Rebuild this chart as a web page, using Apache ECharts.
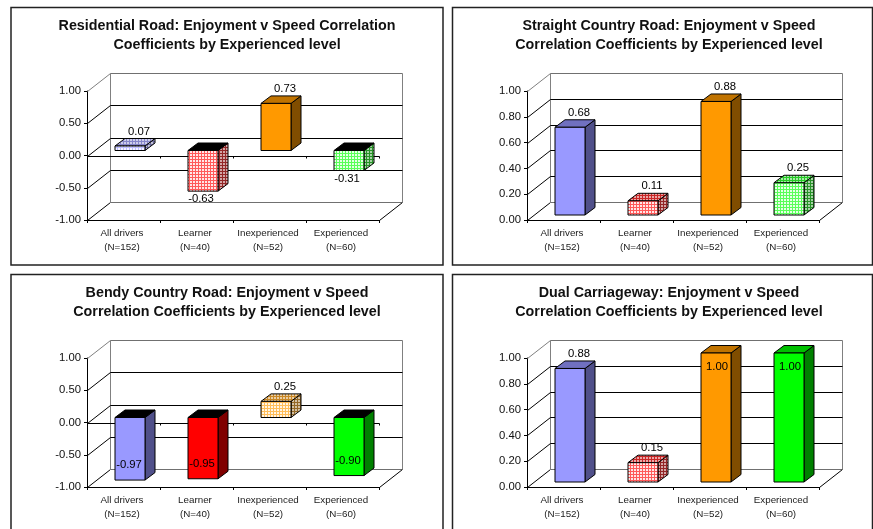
<!DOCTYPE html>
<html>
<head>
<meta charset="utf-8">
<style>html,body{margin:0;padding:0;background:#fff}#c{width:873px;height:529px}</style>
<script src="https://cdn.jsdelivr.net/npm/echarts@6/dist/echarts.min.js"></script>
</head>
<body>
<div id="c"></div>
<script>
// ---- data ----
const categories = ['All drivers\n(N=152)', 'Learner\n(N=40)', 'Inexperienced\n(N=52)', 'Experienced\n(N=60)'];
const titles = [
  'Residential Road: Enjoyment v Speed Correlation\nCoefficients by Experienced level',
  'Straight Country Road: Enjoyment v Speed\nCorrelation Coefficients by Experienced level',
  'Bendy Country Road: Enjoyment v Speed\nCorrelation Coefficients by Experienced level',
  'Dual Carriageway: Enjoyment v Speed\nCorrelation Coefficients by Experienced level'
];
const residentialValues = [0.07, -0.63, 0.73, -0.31];
const straightValues = [0.68, 0.11, 0.88, 0.25];
const bendyValues = [-0.97, -0.95, 0.25, -0.90];
const dualValues = [0.88, 0.15, 1.00, 1.00];
// solid bars in the source; the others carry a dotted fill
const residentialSolid = [false, false, true, false];
const straightSolid = [true, false, true, false];
const bendySolid = [true, true, false, true];
const dualSolid = [true, false, true, true];
const signedTicks = [-1, -0.5, 0, 0.5, 1];
const positiveTicks = [0, 0.2, 0.4, 0.6, 0.8, 1];

// ---- style and layout ----
const FONT = '"Liberation Sans", Arial, sans-serif';
const palette = [
  { front: '#9999ff', top: '#7070c0', side: '#50508a' },
  { front: '#ff0000', top: '#c00000', side: '#800000' },
  { front: '#ff9900', top: '#c07300', side: '#804d00' },
  { front: '#00ff00', top: '#00c000', side: '#008000' }
];
const WALL = { dx: 23, dy: 18 };
const BAR = { ox: 6.5, oy: 5, width: 30, dx: 10, dy: 7.5 };
const panels = [
  { left: 87, top: 91, frame: [11, 7.5, 432, 257.5], titleX: 227, titleY: 16.5, values: residentialValues, solid: residentialSolid, ticks: signedTicks },
  { left: 527, top: 91, frame: [452.5, 7.5, 420, 257.5], titleX: 669, titleY: 16.5, values: straightValues, solid: straightSolid, ticks: positiveTicks },
  { left: 87, top: 358, frame: [11, 274.5, 432, 270], titleX: 227, titleY: 283.5, values: bendyValues, solid: bendySolid, ticks: signedTicks },
  { left: 527, top: 358, frame: [452.5, 274.5, 420, 270], titleX: 669, titleY: 283.5, values: dualValues, solid: dualSolid, ticks: positiveTicks }
];

function mix(hex, amount) {
  const n = parseInt(hex.slice(1), 16);
  const ch = s => Math.round(((n >> s) & 255) * (1 - amount) + 255 * amount);
  return 'rgb(' + ch(16) + ',' + ch(8) + ',' + ch(0) + ')';
}
const tiles = {};
function dots(color) {
  if (tiles[color]) return tiles[color];
  const cv = document.createElement('canvas');
  cv.width = cv.height = 3;
  const g = cv.getContext('2d');
  g.fillStyle = mix(color, 0.35);
  g.fillRect(0, 0, 3, 3);
  g.fillStyle = mix(color, 0.9);
  g.fillRect(1, 1, 2, 2);
  return (tiles[color] = { image: cv, repeat: 'repeat' });
}
function darkDots(color) {
  const key = 'dark' + color;
  if (tiles[key]) return tiles[key];
  const cv = document.createElement('canvas');
  cv.width = cv.height = 3;
  const g = cv.getContext('2d');
  g.fillStyle = mix(color, 0.15);
  g.fillRect(0, 0, 3, 3);
  g.fillStyle = mix(color, 0.65);
  g.fillRect(1, 1, 2, 2);
  return (tiles[key] = { image: cv, repeat: 'repeat' });
}

function line(points, stroke, width) {
  return { type: 'polyline', shape: { points }, style: { stroke, lineWidth: width || 1, fill: 'none' }, silent: true };
}
const snap = v => Math.round(v) + 0.5;

function renderWall(p) {
  return function (params, api) {
    const rect = params.coordSys;
    const x0 = snap(rect.x), x1 = snap(rect.x + rect.width);
    const tick = api.value(1);
    const y = snap(api.coord([0, tick])[1]);
    const isBottom = tick === p.ticks[0], isTop = tick === p.ticks[p.ticks.length - 1];
    const back = y - WALL.dy;
    const kids = [];
    kids.push(line([[x0, y], [x0 + WALL.dx, back]], isTop ? '#808080' : '#000000'));
    kids.push(line([[x0 + WALL.dx, back], [x1 + WALL.dx, back]], isTop || isBottom ? '#707070' : '#000000'));
    if (isBottom) {
      kids.push(line([[x1, y], [x1 + WALL.dx, back]], '#000000'));
      const yTop = snap(api.coord([0, p.ticks[p.ticks.length - 1]])[1]) - WALL.dy;
      kids.push(line([[x0 + WALL.dx, back], [x0 + WALL.dx, yTop]], '#808080'));
      kids.push(line([[x1 + WALL.dx, back], [x1 + WALL.dx, yTop]], '#808080'));
    }
    if (tick === 0 && !isBottom) {
      kids.push(line([[x0, y], [x1, y]], '#000000'));
      for (let i = 1; i <= categories.length; i++) {
        const xt = snap(rect.x + rect.width * i / categories.length);
        kids.push(line([[xt, y], [xt, y + 2]], '#000000'));
      }
    }
    return { type: 'group', children: kids };
  };
}

function renderBar(p) {
  return function (params, api) {
    const i = api.value(0), v = api.value(1);
    const c = api.coord([i, v]), z = api.coord([i, 0]);
    const xl = c[0] + BAR.ox - BAR.width / 2, xr = xl + BAR.width;
    const yv = c[1] - BAR.oy, yz = z[1] - BAR.oy;
    const top = Math.min(yv, yz), bottom = Math.max(yv, yz);
    const d = BAR.dx, h = BAR.dy;
    const col = palette[i], solid = p.solid[i];
    const topFill = v < 0 ? '#000000' : (solid ? col.top : darkDots(col.top));
    const poly = (pts, fill) => ({
      type: 'polygon', shape: { points: pts }, silent: true,
      style: { fill, stroke: '#000000', lineWidth: 1 }
    });
    const cx = (xl + xr) / 2;
    let lx, ly;
    if (v >= 1) { lx = cx + 1; ly = top + 14; }
    else if (v <= -0.9) { lx = cx - 1; ly = bottom - 15; }
    else if (v > 0) { lx = cx + d - 1; ly = top - h - 7; }
    else { lx = cx - 2; ly = bottom + 8; }
    return {
      type: 'group',
      children: [
        poly([[xr, top], [xr + d, top - h], [xr + d, bottom - h], [xr, bottom]], solid ? col.side : darkDots(col.side)),
        poly([[xl, top], [xl + d, top - h], [xr + d, top - h], [xr, top]], topFill),
        poly([[xl, top], [xr, top], [xr, bottom], [xl, bottom]], solid ? col.front : dots(col.front)),
        {
          type: 'text', z2: 50, silent: true,
          style: {
            text: v.toFixed(2), x: lx, y: ly, fill: '#000000',
            fontFamily: FONT, fontSize: 11.3, align: 'center', verticalAlign: 'middle'
          }
        }
      ]
    };
  };
}

const option = {
  animation: false,
  backgroundColor: '#ffffff',
  graphic: panels.map(p => ({
    type: 'rect', z: -1, silent: true,
    shape: { x: p.frame[0], y: p.frame[1], width: p.frame[2], height: p.frame[3] },
    style: { fill: '#ffffff', stroke: '#222222', lineWidth: 1.5 }
  })),
  title: panels.map((p, k) => ({
    text: titles[k], left: p.titleX, top: p.titleY, textAlign: 'center', padding: 0,
    textStyle: { fontFamily: FONT, fontSize: 14.3, fontWeight: 'bold', color: '#111111', lineHeight: 19 }
  })),
  grid: panels.map(p => ({ left: p.left, top: p.top, width: 292, height: 129, containLabel: false })),
  xAxis: panels.map((p, k) => ({
    type: 'category', gridIndex: k, data: categories, position: 'bottom',
    axisLine: { onZero: false, lineStyle: { color: '#000000', width: 1 } },
    axisTick: { show: true, length: 3, alignWithLabel: false, lineStyle: { color: '#000000' } },
    axisLabel: { show: true, interval: 0, margin: 7, padding: [0, 3, 0, 0], fontFamily: FONT, fontSize: 9.8, lineHeight: 13.5, color: '#222222' },
    splitLine: { show: false }
  })),
  yAxis: panels.map((p, k) => ({
    type: 'value', gridIndex: k,
    min: p.ticks[0], max: p.ticks[p.ticks.length - 1],
    interval: p.ticks[1] - p.ticks[0],
    axisLine: { show: true, onZero: false, lineStyle: { color: '#000000', width: 1 } },
    axisTick: { show: true, length: 3, lineStyle: { color: '#000000' } },
    axisLabel: { margin: 6, fontFamily: FONT, fontSize: 11.3, color: '#111111', formatter: v => v.toFixed(2) },
    splitLine: { show: false }
  })),
  series: panels.flatMap((p, k) => [
    {
      type: 'custom', xAxisIndex: k, yAxisIndex: k, clip: false, silent: true, z: 1,
      encode: { x: 0, y: 1 },
      data: p.ticks.map(t => [0, t]),
      renderItem: renderWall(p)
    },
    {
      type: 'custom', xAxisIndex: k, yAxisIndex: k, clip: false, silent: true, z: 3,
      encode: { x: 0, y: 1 },
      data: p.values.map((v, i) => [i, v]),
      renderItem: renderBar(p)
    }
  ])
};
echarts.init(document.getElementById('c'), null, { renderer: 'canvas' }).setOption(option);
</script>
</body>
</html>
